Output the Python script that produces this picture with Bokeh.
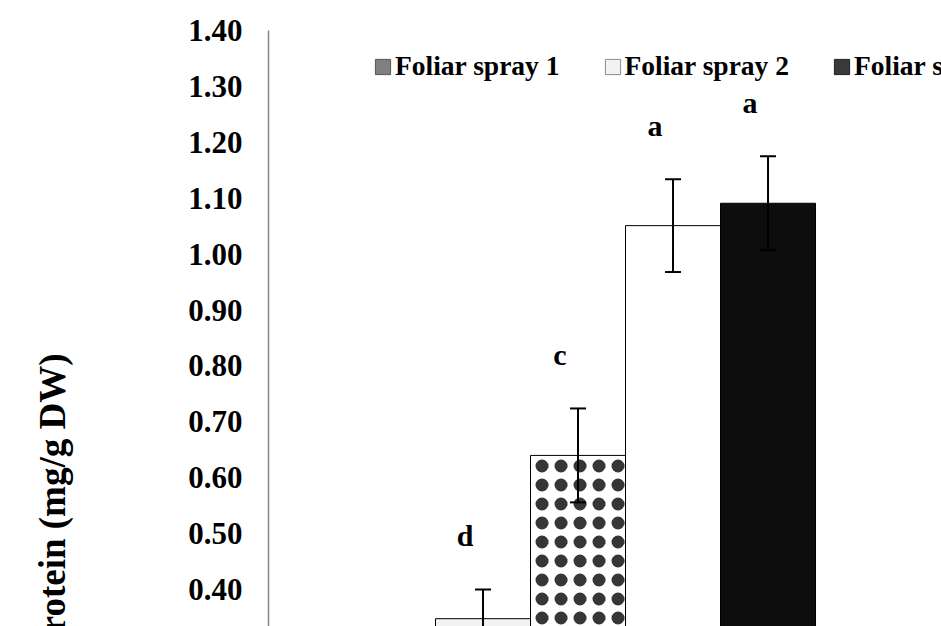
import math
from bokeh.plotting import figure
from bokeh.models import (ColumnDataSource, Whisker, FixedTicker, NumeralTickFormatter,
                          Legend, LegendItem, TeeHead, Range1d)
from bokeh.core.properties import value
from bokeh.embed import file_html
from bokeh.resources import INLINE

# ---- data ----
protein = [0.348, 0.640, 1.051, 1.091]
protein_err = [0.052, 0.084, 0.083, 0.084]
letters = ["d", "c", "a", "a"]
legend_labels = ["Foliar spray 1", "Foliar spray 2", "Foliar spray 3"]
y_ticks = [0.40, 0.50, 0.60, 0.70, 0.80, 0.90, 1.00, 1.10, 1.20, 1.30, 1.40]
y_title = "Protein (mg/g DW)"

# ---- styles ----
bar_fill = ["#f2f2f2", "#ffffff", "#ffffff", "#0d0d0d"]
bar_hatch = [" ", "ring", " ", " "]
bar_hatch2 = [" ", "dot", " ", " "]
legend_fill = ["#808080", "#f2f2f2", "#3a3a3a"]
legend_line = ["#555555", "#8c8c8c", "#222222"]
FONT = "Liberation Serif"

xpos = list(range(1, len(protein) + 1))
src = ColumnDataSource(dict(
    x=xpos, top=protein,
    upper=[v + e for v, e in zip(protein, protein_err)],
    lower=[v - e for v, e in zip(protein, protein_err)],
    fill=bar_fill, hatch=bar_hatch, hatch2=bar_hatch2, lab=letters,
))

p = figure(width=941, height=626, output_backend="svg", toolbar_location=None,
           x_range=Range1d(-1.258, 5.826), y_range=Range1d(0.334, 1.40),
           min_border_left=268, min_border_right=0, min_border_top=30, min_border_bottom=0)
p.xaxis.visible = False
p.xgrid.visible = False
p.ygrid.visible = False
p.outline_line_color = None
p.background_fill_color = "white"
p.border_fill_color = "white"

# bars; the patterned bar gets rings plus centre dots -> solid dark spots
p.vbar(x="x", top="top", bottom=0, width=1.0, source=src, fill_color="fill",
       line_color="black", line_width=1, hatch_pattern="hatch", hatch_color="#363636",
       hatch_scale=19, hatch_weight=3.5)
p.vbar(x="x", top="top", bottom=0, width=1.0, source=src, fill_alpha=0, line_alpha=0,
       hatch_pattern="hatch2", hatch_color="#363636", hatch_scale=19)

w = Whisker(base="x", upper="upper", lower="lower", source=src, line_color="black",
            line_width=2, level="annotation",
            upper_head=TeeHead(size=16, line_width=2, line_color="black"),
            lower_head=TeeHead(size=16, line_width=2, line_color="black"))
p.add_layout(w)

p.text(x="x", y="upper", text="lab", source=src, x_offset=-18, y_offset=-54,
       text_font=value(FONT), text_font_style="bold", text_font_size="30px",
       text_align="center", text_baseline="middle", text_color="black")

yax = p.yaxis[0]
yax.ticker = FixedTicker(ticks=y_ticks)
yax.formatter = NumeralTickFormatter(format="0.00")
yax.major_label_text_font = FONT
yax.major_label_text_font_style = "bold"
yax.major_label_text_font_size = "31px"
yax.major_label_text_color = "black"
yax.major_label_standoff = 26
yax.major_tick_out = 0
yax.major_tick_in = 0
yax.minor_tick_out = 0
yax.minor_tick_in = 0
yax.axis_line_color = "#868686"
yax.axis_line_width = 1.5
# title shifted toward the bottom of the axis (the start of the text runs past the edge)
yax.axis_label = y_title + "\u00a0" * 38
yax.axis_label_text_font = FONT
yax.axis_label_text_font_style = "bold"
yax.axis_label_text_font_size = "37px"
yax.axis_label_text_color = "black"
yax.axis_label_standoff = 112

# legend proxies: one bar each, placed far outside the visible x range
proxy = ColumnDataSource(dict(x=[-100], top=[0.5]))
items = []
for lab, fc, lc in zip(legend_labels, legend_fill, legend_line):
    r = p.vbar(x="x", top="top", width=1, source=proxy, fill_color=fc, line_color=lc)
    items.append(LegendItem(label=lab, renderers=[r]))
leg = Legend(items=items, orientation="horizontal", location=(105, 544),
             glyph_width=19, glyph_height=19, label_standoff=3, spacing=43,
             padding=0, margin=0, border_line_color=None, background_fill_alpha=0,
             label_text_font=FONT, label_text_font_style="bold",
             label_text_font_size="27.5px", label_text_color="black")
p.add_layout(leg, "center")

open("out.html", "w").write(file_html(p, INLINE))
